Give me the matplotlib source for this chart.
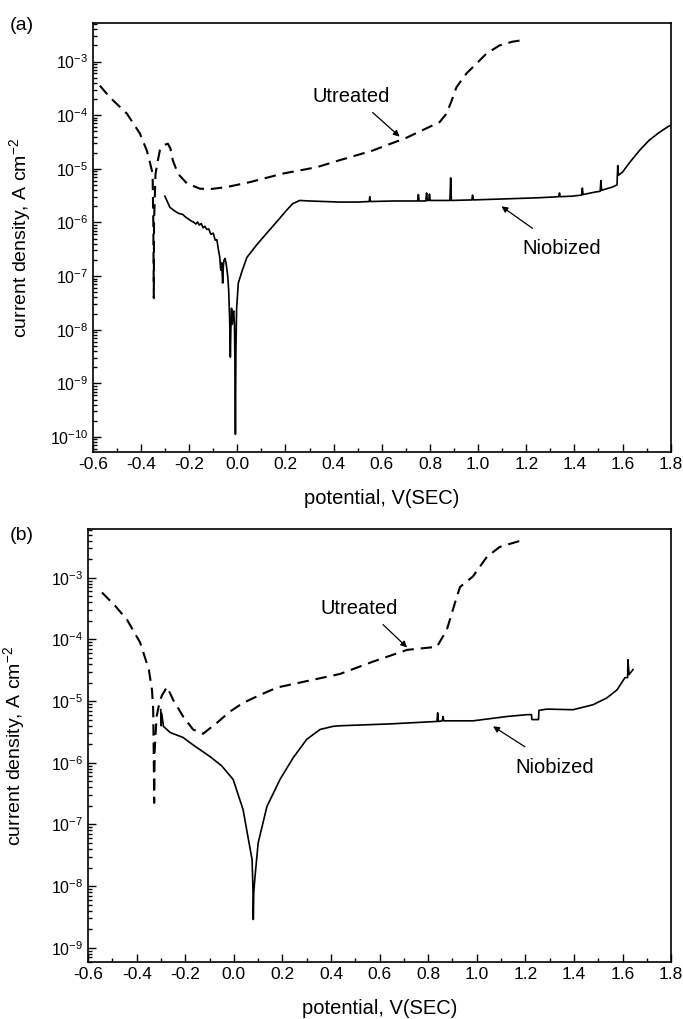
import numpy as np
import matplotlib
matplotlib.use("Agg")
import matplotlib.pyplot as plt
from matplotlib.ticker import LogLocator, MultipleLocator, FixedLocator, NullFormatter

plt.rcParams['font.family'] = ['Liberation Sans', 'DejaVu Sans']
plt.rcParams['mathtext.fontset'] = 'custom'
plt.rcParams['mathtext.rm'] = 'Liberation Sans'
plt.rcParams['mathtext.it'] = 'Liberation Sans:italic'

# ---- panel (a): potential (V vs SCE) and log10(current density) ----
ut_a_E = [-0.571, -0.529, -0.459, -0.405, -0.376, -0.362, -0.352, -0.349, -0.347,
          -0.346, -0.340, -0.330, -0.322, -0.305, -0.289, -0.278, -0.268, -0.247,
          -0.210, -0.156, -0.115, -0.044, 0.051, 0.188, 0.330, 0.425, 0.562, 0.703,
          0.769, 0.840, 0.869, 0.890, 0.910, 0.952, 0.993, 1.035, 1.089, 1.143, 1.200]
ut_a_logi = [-3.45, -3.67, -3.97, -4.34, -4.66, -4.90, -5.09, -6.00, -7.41,
             -6.00, -5.10, -4.84, -4.66, -4.56, -4.53, -4.62, -4.84, -5.09,
             -5.27, -5.37, -5.38, -5.34, -5.25, -5.09, -4.97, -4.84, -4.66, -4.42,
             -4.28, -4.13, -3.97, -3.73, -3.48, -3.22, -3.04, -2.85, -2.70, -2.63, -2.59]

nb_a_E = [-0.301, -0.290, -0.280, -0.262, -0.245, -0.227, -0.215, -0.205, -0.196,
          -0.188, -0.180, -0.172, -0.165, -0.158, -0.150, -0.142, -0.135, -0.127,
          -0.119, -0.110, -0.100, -0.092, -0.085, -0.079, -0.073, -0.069, -0.065,
          -0.061, -0.058, -0.055, -0.051, -0.047, -0.043, -0.040, -0.036, -0.032,
          -0.029, -0.027, -0.024, -0.021, -0.018, -0.015, -0.012, -0.010, -0.008,
          -0.006, -0.003, 0.004, 0.020, 0.040, 0.080, 0.122, 0.165, 0.205, 0.230,
          0.259, 0.300, 0.425, 0.500, 0.548, 0.550, 0.553, 0.650, 0.749, 0.752,
          0.755, 0.783, 0.786, 0.789, 0.795, 0.798, 0.801, 0.883, 0.886, 0.889,
          0.974, 0.977, 0.980, 1.118, 1.250, 1.335, 1.338, 1.341, 1.390, 1.430,
          1.433, 1.436, 1.490, 1.507, 1.510, 1.513, 1.558, 1.577, 1.580, 1.583,
          1.600, 1.630, 1.670, 1.710, 1.750, 1.790, 1.800]
nb_a_logi = [-5.51, -5.62, -5.72, -5.78, -5.83, -5.85, -5.90, -5.93, -5.96,
             -5.98, -6.00, -6.03, -5.99, -6.05, -6.02, -6.10, -6.07, -6.13,
             -6.12, -6.22, -6.20, -6.33, -6.32, -6.50, -6.65, -6.89, -6.75,
             -7.13, -6.80, -6.70, -6.67, -6.75, -6.89, -7.00, -7.26, -7.80,
             -8.51, -8.00, -7.60, -7.90, -7.70, -7.65, -7.90, -8.60, -9.95,
             -8.40, -7.60, -7.13, -6.90, -6.65, -6.42, -6.20, -5.98, -5.77, -5.65,
             -5.59, -5.60, -5.62, -5.62, -5.61, -5.52, -5.61, -5.60, -5.60, -5.48,
             -5.60, -5.60, -5.45, -5.59, -5.59, -5.47, -5.59, -5.59, -5.17, -5.59,
             -5.58, -5.49, -5.58, -5.56, -5.54, -5.52, -5.45, -5.52, -5.51, -5.49,
             -5.36, -5.48, -5.43, -5.42, -5.22, -5.40, -5.34, -5.30, -4.94, -5.12,
             -5.06, -4.88, -4.66, -4.47, -4.33, -4.21, -4.19]

# ---- panel (b) ----
ut_b_E = [-0.543, -0.490, -0.440, -0.386, -0.350, -0.337, -0.332, -0.330, -0.328,
          -0.326, -0.318, -0.305, -0.295, -0.275, -0.250, -0.209, -0.168, -0.127,
          -0.069, -0.016, 0.038, 0.108, 0.178, 0.272, 0.437, 0.573, 0.713, 0.836,
          0.877, 0.910, 0.931, 0.984, 1.042, 1.095, 1.198]
ut_b_logi = [-3.24, -3.45, -3.68, -4.05, -4.49, -4.82, -5.15, -5.80, -6.65,
             -5.80, -5.25, -5.00, -4.90, -4.77, -4.98, -5.25, -5.46, -5.53,
             -5.35, -5.17, -5.03, -4.90, -4.78, -4.70, -4.56, -4.36, -4.17, -4.12,
             -3.84, -3.41, -3.15, -2.98, -2.66, -2.50, -2.38]

nb_b_E = [-0.301, -0.300, -0.297, -0.290, -0.262, -0.209, -0.168, -0.098, -0.050,
          -0.003, 0.038, 0.058, 0.075, 0.079, 0.080, 0.082, 0.087, 0.100, 0.136,
          0.190, 0.244, 0.300, 0.355, 0.408, 0.437, 0.643, 0.836, 0.839, 0.842,
          0.858, 0.861, 0.864, 0.985, 1.124, 1.207, 1.225, 1.227, 1.254, 1.256,
          1.289, 1.396, 1.478, 1.535, 1.577, 1.610, 1.621, 1.622, 1.627, 1.643]
nb_b_logi = [-5.14, -5.40, -5.20, -5.41, -5.51, -5.59, -5.71, -5.90, -6.05,
             -6.27, -6.76, -7.20, -7.57, -8.10, -8.54, -8.10, -7.85, -7.30, -6.71,
             -6.27, -5.92, -5.62, -5.46, -5.41, -5.40, -5.37, -5.33, -5.19, -5.33,
             -5.32, -5.25, -5.32, -5.32, -5.25, -5.22, -5.22, -5.30, -5.30, -5.15,
             -5.13, -5.14, -5.06, -4.95, -4.82, -4.62, -4.62, -4.33, -4.57, -4.49]

panels = [
    dict(tag='(a)', tag_y=1 - 25 / 1019, ut=(ut_a_E, ut_a_logi), nb=(nb_a_E, nb_a_logi),
         ylim=(10**-10.28, 10**-2.29), decades=range(-10, -2),
         rect=[0.136, 0.5564, 0.846, 0.4206],
         ut_txt=(0.473, 10**-3.66), ut_arrow=((0.562, 10**-3.95), (0.674, 10**-4.40)),
         nb_txt=(1.346, 10**-6.48), nb_arrow=((1.226, 10**-6.11), (1.097, 10**-5.70))),
    dict(tag='(b)', tag_y=1 - 535 / 1019, ut=(ut_b_E, ut_b_logi), nb=(nb_b_E, nb_b_logi),
         ylim=(10**-9.23, 10**-2.21), decades=range(-9, -2),
         rect=[0.129, 0.0559, 0.8536, 0.425],
         ut_txt=(0.515, 10**-3.50), ut_arrow=((0.614, 10**-3.76), (0.713, 10**-4.13)),
         nb_txt=(1.322, 10**-6.08), nb_arrow=((1.198, 10**-5.74), (1.067, 10**-5.41))),
]

fig = plt.figure(figsize=(6.83, 10.19), dpi=100)

for p in panels:
    ax = fig.add_axes(p['rect'])
    E, li = p['ut']
    ax.plot(E, 10**np.array(li), color='black', lw=1.5, linestyle=(0, (5.5, 3.3)))
    E, li = p['nb']
    ax.plot(E, 10**np.array(li), color='black', lw=1.2)

    ax.set_yscale('log')
    ax.set_xlim(-0.6, 1.8)
    ax.set_ylim(*p['ylim'])
    ax.xaxis.set_major_locator(MultipleLocator(0.2))
    ax.xaxis.set_minor_locator(MultipleLocator(0.1))
    ax.xaxis.set_major_formatter(plt.FuncFormatter(lambda v, pos: '%.1f' % v))
    ax.yaxis.set_major_locator(FixedLocator([10.0**d for d in p['decades']]))
    ax.yaxis.set_minor_locator(LogLocator(base=10, subs=np.arange(2, 10), numticks=30))
    ax.yaxis.set_minor_formatter(NullFormatter())
    ax.set_yticklabels([r'$10^{%d}$' % d for d in p['decades']])
    ax.tick_params(which='both', direction='in', top=False, right=False, width=1.0)
    ax.tick_params(axis='x', labelsize=12.5)
    ax.tick_params(axis='y', labelsize=11.5)
    ax.tick_params(which='major', length=6)
    ax.tick_params(which='minor', length=3)
    for s in ax.spines.values():
        s.set_linewidth(1.2)

    ax.set_xlabel('potential, V(SEC)', fontsize=14.5)
    ax.set_ylabel(r'current density, A cm$^{-2}$', fontsize=14)
    ax.xaxis.set_label_coords(0.5, -0.086)
    ax.yaxis.set_label_coords(-0.104, 0.5)

    ax.text(p['ut_txt'][0], p['ut_txt'][1], 'Utreated', fontsize=14.5,
            ha='center', va='center')
    ax.text(p['nb_txt'][0], p['nb_txt'][1], 'Niobized', fontsize=14.5,
            ha='center', va='center')
    for (start, end) in (p['ut_arrow'], p['nb_arrow']):
        ax.annotate('', xy=end, xytext=start,
                    arrowprops=dict(arrowstyle='-|>', color='black', lw=0.9,
                                    mutation_scale=9, shrinkA=0, shrinkB=0))

    fig.text(0.014, p['tag_y'], p['tag'], fontsize=14, ha='left', va='center')

fig.savefig('out.png', dpi=100)
